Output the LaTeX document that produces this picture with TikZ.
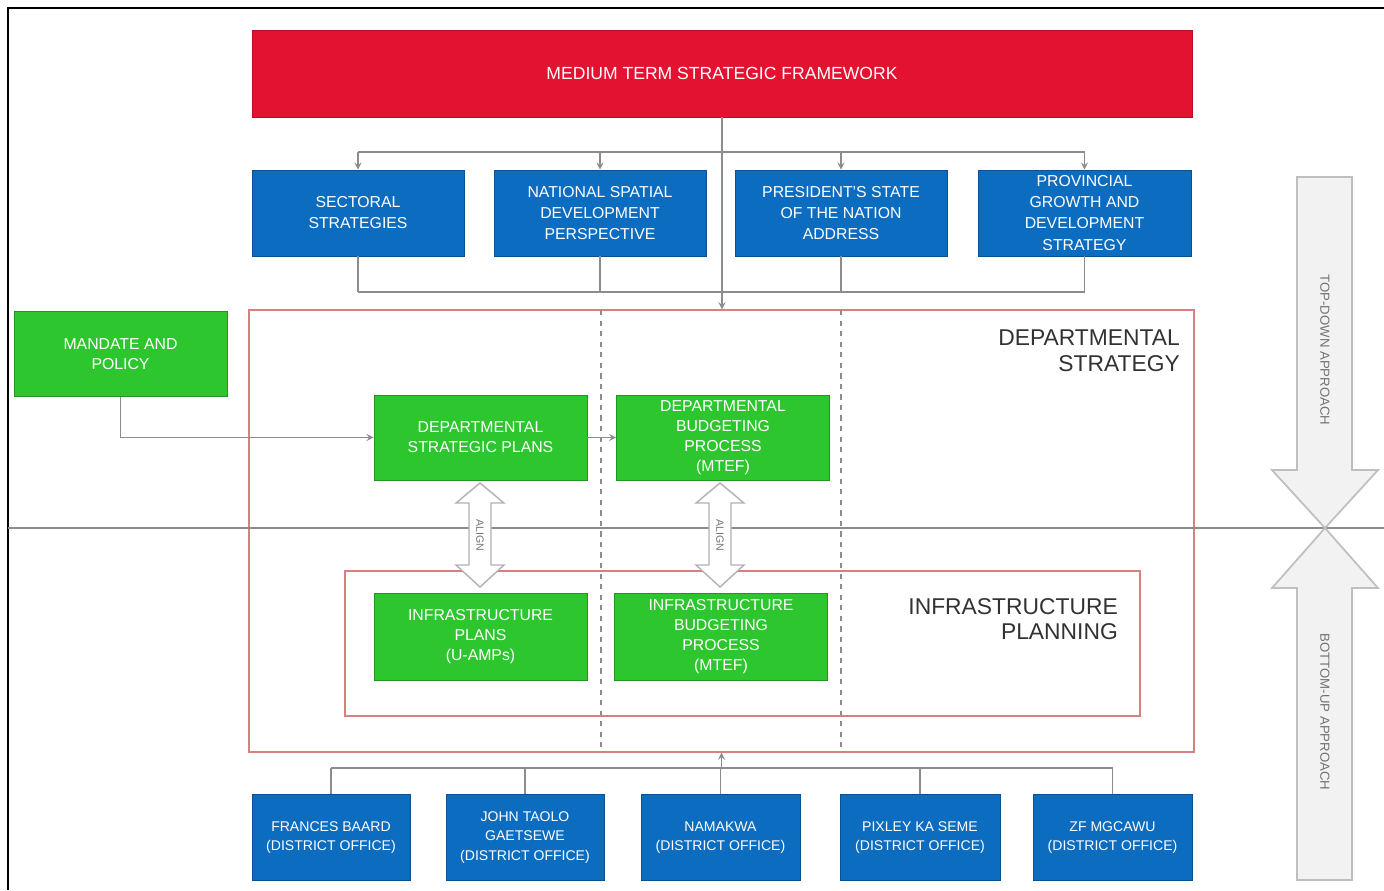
\documentclass[tikz,border=0pt]{standalone}
\usepackage{fontspec}
\setmainfont{Liberation Sans}
\usetikzlibrary{calc}
\definecolor{mtsfred}{RGB}{226,18,48}
\definecolor{boxblue}{RGB}{12,108,192}
\definecolor{boxgreen}{RGB}{46,198,46}
\definecolor{framecol}{RGB}{214,128,128}
\definecolor{conncol}{RGB}{140,140,140}
\definecolor{labelcol}{RGB}{50,50,50}
\tikzset{
	redbox/.style={fill=mtsfred, draw=mtsfred!80!black, text=white, minimum width=18.8cm, minimum height=1.74cm, font=\fontsize{10}{12}\selectfont},
	bluebox/.style={fill=boxblue, draw=boxblue!75!black, text=white, align=center, minimum height=1.72cm, inner sep=1pt, font=\fontsize{9}{12}\selectfont},
	greenbox/.style={fill=boxgreen, draw=boxgreen!75!black, text=white, align=center, minimum width=4.26cm, minimum height=1.7cm, inner sep=1pt, font=\fontsize{9}{11.5}\selectfont},
	container/.style={draw=framecol, line width=0.7pt},
	connline/.style={draw=conncol, line width=0.8pt},
	bigarrow/.style={draw=black!25, fill=black!5, line width=1pt},
	alignarrow/.style={draw=black!30, fill=white, line width=0.8pt},
	sidelabel/.style={align=right, anchor=north east, text=labelcol, font=\fontsize{13}{14.5}\selectfont},
	arrowtext/.style={text=black!55, font=\fontsize{7.5}{9}\selectfont},
	>=stealth
}
\newcommand{\alignshape}[2]{\draw[alignarrow] (#1,483) -- ({#1+24},503) -- ({#1+11},503) -- ({#1+11},565) -- ({#1+24},565) -- (#1,587) -- ({#1-24},565) -- ({#1-11},565) -- ({#1-11},503) -- ({#1-24},503) -- cycle;
	\node[arrowtext, rotate=-90, font=\fontsize{6}{7}\selectfont] (#2) at (#1,535) {ALIGN};}

\begin{document}
\begin{tikzpicture}[x=0.02cm, y=-0.02cm]
		%%%%% START %%%%%
		\useasboundingbox (0,0) rectangle (1384,890);
		\draw[black, line width=1.2pt] (8,890) -- (8,8) -- (1384,8);
		
		\node[redbox] (mtsf) at (722,73.5) {MEDIUM TERM STRATEGIC FRAMEWORK};
		
		\node[bluebox, minimum width=4.24cm] (sect) at (358,213) {SECTORAL\\STRATEGIES};
		\node[bluebox, minimum width=4.24cm] (nsdp) at (600,213) {NATIONAL SPATIAL\\DEVELOPMENT\\PERSPECTIVE};
		\node[bluebox, minimum width=4.24cm] (sona) at (841,213) {PRESIDENT'S STATE\\OF THE NATION\\ADDRESS};
		\node[bluebox, minimum width=4.26cm] (pgds) at (1084.5,213) {PROVINCIAL\\GROWTH AND\\DEVELOPMENT\\STRATEGY};
		
		% departmental strategy and infrastructure planning
		\node[container, minimum width=18.9cm, minimum height=8.84cm] (deptbox) at (721.5,531) {};
		\draw[conncol, line width=0.6pt] (8,528) -- (1384,528);
		\draw[conncol, dashed, line width=0.6pt] (601,310) -- (601,752);
		\draw[conncol, dashed, line width=0.6pt] (841,310) -- (841,752);
		\node[container, fill=white, fill opacity=0, minimum width=15.9cm, minimum height=2.9cm] (infrabox) at (742.5,643.5) {};
		\node[sidelabel] (deptlabel) at (1186,324) {DEPARTMENTAL\\STRATEGY};
		\node[sidelabel] (infralabel) at (1124,592) {INFRASTRUCTURE\\PLANNING};
		
		\node[greenbox, minimum width=4.26cm] (mandate) at (120.5,354) {MANDATE AND\\POLICY};
		\node[greenbox] (dsp) at (480.5,437.5) {DEPARTMENTAL\\STRATEGIC PLANS};
		\node[greenbox] (dbp) at (723,437.5) {DEPARTMENTAL\\BUDGETING\\PROCESS\\(MTEF)};
		\node[greenbox, minimum height=1.74cm] (iamp) at (480.5,636.5) {INFRASTRUCTURE\\PLANS\\(U-AMPs)};
		\node[greenbox, minimum height=1.74cm] (ibp) at (721,636.5) {INFRASTRUCTURE\\BUDGETING\\PROCESS\\(MTEF)};
		
		\alignshape{480}{alignA}
		\alignshape{720}{alignB}
		
		\node[bluebox, minimum width=3.16cm, font=\fontsize{8}{11}\selectfont] (fb) at (331,837.5) {FRANCES BAARD\\(DISTRICT OFFICE)};
		\node[bluebox, minimum width=3.16cm, font=\fontsize{8}{11}\selectfont] (jtg) at (525,837.5) {JOHN TAOLO\\GAETSEWE\\(DISTRICT OFFICE)};
		\node[bluebox, minimum width=3.18cm, font=\fontsize{8}{11}\selectfont] (nam) at (720.5,837.5) {NAMAKWA\\(DISTRICT OFFICE)};
		\node[bluebox, minimum width=3.2cm, font=\fontsize{8}{11}\selectfont] (pks) at (920,837.5) {PIXLEY KA SEME\\(DISTRICT OFFICE)};
		\node[bluebox, minimum width=3.18cm, font=\fontsize{8}{11}\selectfont] (zfm) at (1112.5,837.5) {ZF MGCAWU\\(DISTRICT OFFICE)};
		
		% connectors
		\coordinate (topbar) at (0,152);
		\coordinate (midbar) at (0,292);
		\coordinate (botbar) at (0,768);
		\draw[connline, ->] (mtsf.south) -- (mtsf.south |- deptbox.north);
		\draw[connline] (sect.north |- topbar) -- (pgds.north |- topbar);
		\draw[connline] (sect.south |- midbar) -- (pgds.south |- midbar);
		\foreach \b in {sect,nsdp,sona,pgds} {
			\draw[connline, ->] (\b.north |- topbar) -- (\b.north);
			\draw[connline] (\b.south) -- (\b.south |- midbar);
		}
		\draw[connline, ->] (mandate.south) |- (dsp.west);
		\draw[connline, ->] (dsp.east) -- (dbp.west);
		\draw[connline] (fb.north |- botbar) -- (zfm.north |- botbar);
		\foreach \b in {fb,jtg,nam,pks,zfm}
			\draw[connline] (\b.north) -- (\b.north |- botbar);
		\draw[connline, ->] (deptbox.south |- botbar) -- (deptbox.south);
		
		% top-down and bottom-up arrows
		\draw[bigarrow] (1297,177) -- (1352,177) -- (1352,470) -- (1378,470) -- (1325,528) -- (1272,470) -- (1297,470) -- cycle;
		\draw[bigarrow] (1297,880) -- (1352,880) -- (1352,588) -- (1378,588) -- (1325,528) -- (1272,588) -- (1297,588) -- cycle;
		\node[arrowtext, rotate=-90] (topdown) at (1325,350) {TOP-DOWN APPROACH};
		\node[arrowtext, rotate=-90] (bottomup) at (1325,712) {BOTTOM-UP APPROACH};
		
		%%%%% END %%%%%
\end{tikzpicture}
\end{document}
